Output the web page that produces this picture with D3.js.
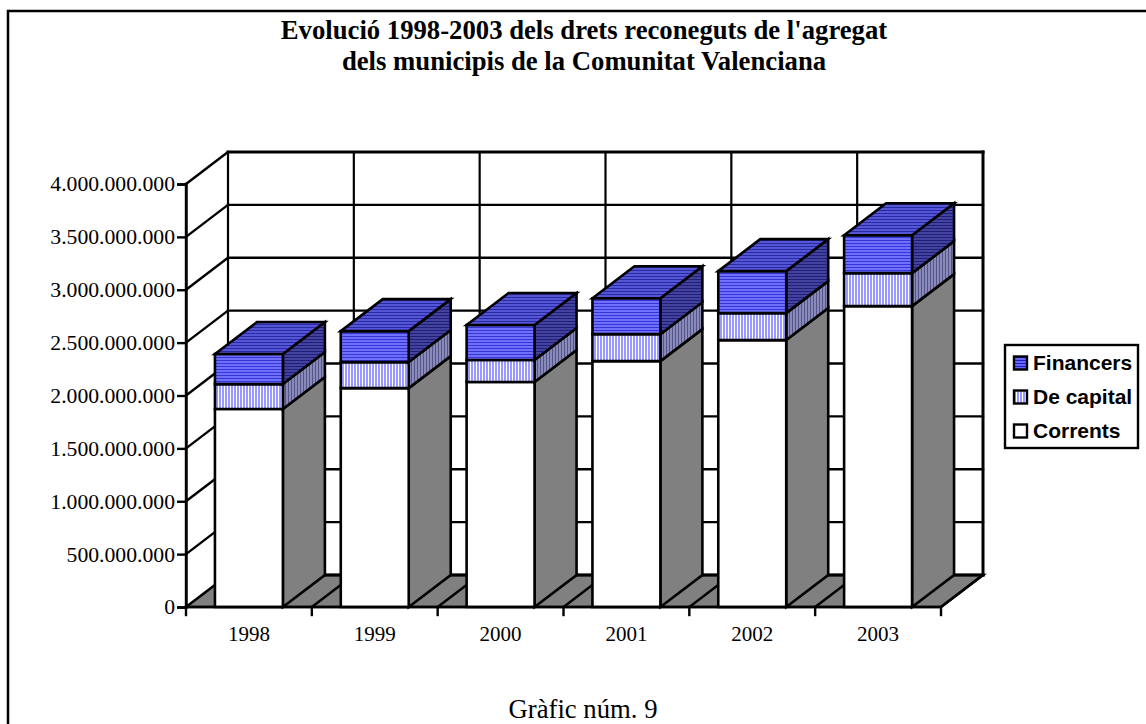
<!DOCTYPE html>
<html><head><meta charset="utf-8">
<script src="https://cdn.jsdelivr.net/npm/d3@7/dist/d3.min.js"></script>
<style>html,body{margin:0;padding:0;background:#fff;overflow:hidden}svg{display:block}</style>
</head><body><svg id="c" width="1146" height="724"></svg>
<script>
const categories=["1998","1999","2000","2001","2002","2003"];
const corrents=[1872e6,2070e6,2127e6,2325e6,2524e6,2845e6];
const deCapital=[236e6,246e6,208e6,255e6,255e6,312e6];
const financers=[284e6,293e6,331e6,340e6,397e6,359e6];
const seriesNames=["Corrents","De capital","Financers"];
const yTicks=[0,5e8,1e9,15e8,2e9,25e8,3e9,35e8,4e9];
const titleLines=["Evolució 1998-2003 dels drets reconeguts de l'agregat","dels municipis de la Comunitat Valenciana"];
const caption="Gràfic núm. 9";

const svg=d3.select("#c");
const serif="'Liberation Serif','Times New Roman',serif", sans="'Liberation Sans',Arial,sans-serif";
const X0=186,X1=941,Y0=607,Y1=184,DX=42,DY=-32;
const x=d3.scaleBand().domain(categories).range([X0,X1]).paddingInner(0.46).paddingOuter(0.23);
const xEdge=d3.scalePoint().domain(d3.range(7)).range([X0,X1]);
const y=d3.scaleLinear().domain([0,4e9]).range([Y0,Y1]);
const rows=categories.map((c,i)=>({c,v:[corrents[i],deCapital[i],financers[i]]}));
const stack=rows.map(r=>{let s=0;return r.v.map((v,k)=>{const o={c:r.c,k,a:s,b:s+v};s+=v;return o;});});

const defs=svg.append("defs");
function stripes(id,bg,fg,horizontal,period,w){
  const p=defs.append("pattern").attr("id",id).attr("patternUnits","userSpaceOnUse")
    .attr("width",horizontal?8:period).attr("height",horizontal?period:8);
  p.append("rect").attr("width",8).attr("height",8).attr("fill",bg);
  if(horizontal)p.append("rect").attr("width",8).attr("height",w).attr("fill",fg);
  else p.append("rect").attr("width",w).attr("height",8).attr("fill",fg);
}
stripes("finF","#7070ff","#3535d8",true,3,1);
stripes("finT","#5555d8","#2a2aa0",true,3,1);
stripes("finS","#43439f","#1f1f78",true,3,1);
stripes("capF","#ffffff","#9999ff",false,3,2);
stripes("capS","#8a8ab8","#55558c",false,3,1);
stripes("leg0","#6666ff","#2222bb",true,3,1);

svg.append("rect").attr("x",8).attr("y",11).attr("width",1200).attr("height",800).attr("fill","#fff").attr("stroke","#000").attr("stroke-width",2.5);

svg.append("g").selectAll("text").data(titleLines).join("text")
  .attr("x",584).attr("y",(d,i)=>39+i*31).attr("text-anchor","middle")
  .attr("font-family",serif).attr("font-weight","bold").attr("font-size",26.7).text(d=>d);

const line=(x1,y1,x2,y2,w=2)=>svg.append("line").attr("x1",x1).attr("y1",y1).attr("x2",x2).attr("y2",y2)
  .attr("stroke","#000").attr("stroke-width",w).attr("stroke-linecap","square");
const poly=(pts,fill,w=2.6)=>svg.append("polygon").attr("points",pts.map(p=>p.join(",")).join(" "))
  .attr("fill",fill).attr("stroke","#000").attr("stroke-width",w).attr("stroke-linejoin","miter");

poly([[X0,Y0],[X0+DX,Y0+DY],[X1+DX,Y0+DY],[X1,Y0]],"#808080");
yTicks.slice(1).forEach(t=>{
  line(X0+DX,y(t)+DY,X1+DX,y(t)+DY,t===4e9?3:2.4);
  line(X0,y(t),X0+DX,y(t)+DY,2.4);
});
line(X0+DX,Y0+DY,X1+DX,Y0+DY,3);
d3.range(0,7).forEach(i=>line(xEdge(i)+DX,Y1+DY,xEdge(i)+DX,Y0+DY,i===6?3:2.2));
d3.range(1,7).forEach(i=>line(xEdge(i),Y0,xEdge(i)+DX,Y0+DY,2.4));
line(X0,Y0,X0,Y1,2.4);

const fills=[["#fff","#808080"],["url(#capF)","url(#capS)"],["url(#finF)","url(#finS)"]];
stack.forEach(col=>{
  const l=x(col[0].c), r=l+x.bandwidth();
  col.forEach(s=>{
    const ya=y(s.a),yb=y(s.b);
    poly([[r,ya],[r+DX,ya+DY],[r+DX,yb+DY],[r,yb]],fills[s.k][1]);
    poly([[l,ya],[r,ya],[r,yb],[l,yb]],fills[s.k][0]);
    if(s.k===2)poly([[l,yb],[l+DX,yb+DY],[r+DX,yb+DY],[r,yb]],"url(#finT)");
  });
});

const yAxis=d3.axisLeft(y).tickValues(yTicks).tickSize(9).tickPadding(2)
  .tickFormat(d=>d3.format(",")(d).replace(/,/g,"."));
const gy=svg.append("g").attr("transform",`translate(${X0},0)`).call(yAxis);
gy.select(".domain").attr("stroke-width",2.4).attr("stroke","#000");
gy.selectAll("line").attr("stroke-width",2.4).attr("stroke","#000");
gy.selectAll("text").attr("font-family",serif).attr("font-size",21.7).attr("fill","#000");

const xAxis=d3.axisBottom(x).tickSize(0).tickPadding(19);
const gx=svg.append("g").attr("transform",`translate(0,${Y0})`).call(xAxis);
gx.select(".domain").remove();
gx.selectAll("text").attr("font-family",serif).attr("font-size",21).attr("fill","#000").attr("dy","0.71em");
line(X0,Y0,X1,Y0,2.4);
d3.range(0,7).forEach(i=>line(xEdge(i),Y0,xEdge(i),Y0+8,2.4));

svg.append("rect").attr("x",1005).attr("y",345).attr("width",133).attr("height",103).attr("fill","#fff").attr("stroke","#000").attr("stroke-width",2.4);
const legendRows=[["Financers","url(#leg0)",363],["De capital","url(#capF)",397],["Corrents","#fff",431]];
legendRows.forEach(([name,f,yy])=>{
  svg.append("rect").attr("x",1014).attr("y",yy-6.5).attr("width",13).attr("height",13).attr("fill",f).attr("stroke","#000").attr("stroke-width",2.4);
  svg.append("text").attr("x",1033).attr("y",yy+7).attr("font-family",sans).attr("font-weight","bold").attr("font-size",21).text(name);
});

svg.append("text").attr("x",583).attr("y",717.5).attr("text-anchor","middle").attr("font-family",serif).attr("font-size",26.7).text(caption);
</script></body></html>
